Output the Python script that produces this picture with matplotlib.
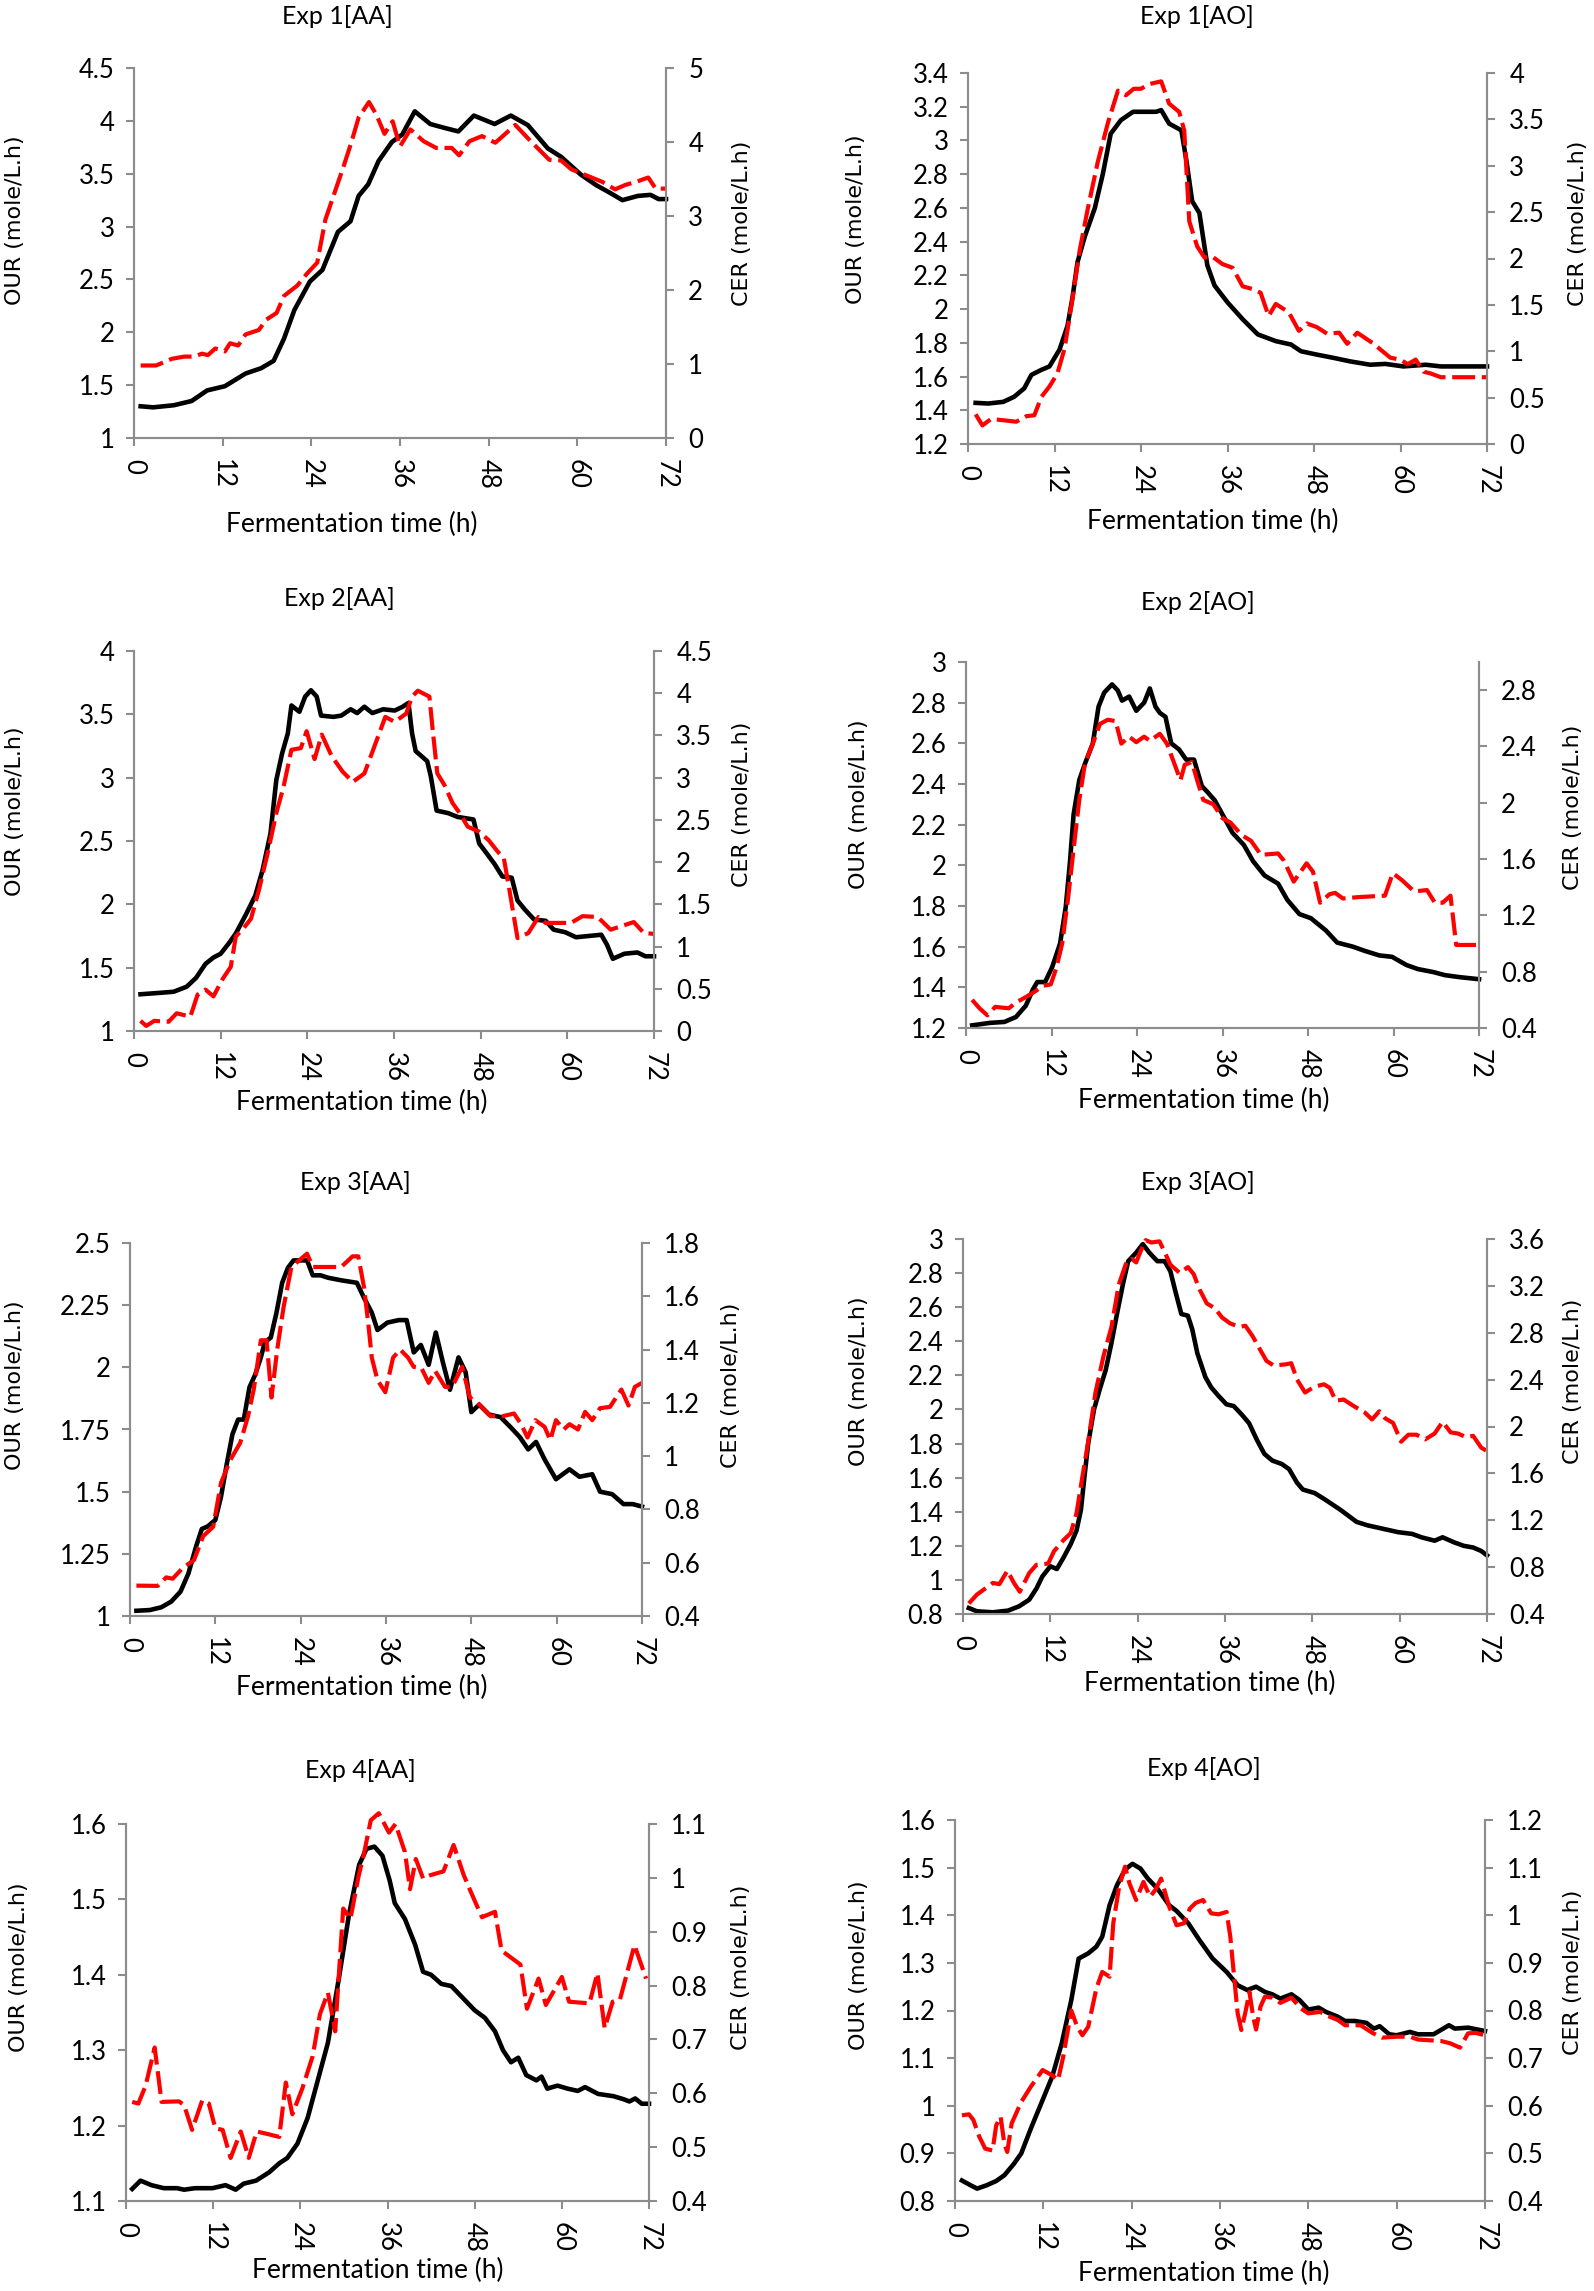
import numpy as np
import matplotlib
matplotlib.use("Agg")
import matplotlib.pyplot as plt
from matplotlib.ticker import FuncFormatter

# figure size in pixels (dpi 100)
W, H = 1594, 2291

# ---- data: (time h, value) ----
# Exp 1[AA]
our_1aa = [(0.9, 1.30), (2.6, 1.29), (5.4, 1.31), (7.8, 1.35), (9.9, 1.45), (12.3, 1.49), (15.1, 1.61),
           (17.2, 1.66), (18.9, 1.73), (20.3, 1.94), (21.7, 2.21), (23.8, 2.48), (25.5, 2.59), (27.6, 2.95),
           (29.3, 3.05), (30.4, 3.29), (31.7, 3.40), (33.1, 3.62), (34.9, 3.80), (36.3, 3.87), (38.0, 4.09),
           (40.1, 3.97), (42.2, 3.93), (43.9, 3.90), (46.0, 4.05), (48.8, 3.97), (51.0, 4.05), (53.3, 3.96),
           (56.0, 3.74), (57.8, 3.66), (60.5, 3.49), (62.6, 3.39), (64.4, 3.32), (66.1, 3.25), (68.2, 3.29),
           (69.9, 3.30), (71.0, 3.26), (72.0, 3.26)]
cer_1aa = [(0.9, 0.98), (3.0, 0.98), (5.1, 1.07), (6.8, 1.10), (8.2, 1.10), (9.2, 1.14), (10.0, 1.12),
           (11.0, 1.21), (12.3, 1.17), (13.0, 1.28), (14.1, 1.25), (15.1, 1.40), (16.9, 1.46), (17.9, 1.60),
           (19.3, 1.69), (20.3, 1.92), (22.1, 2.06), (23.4, 2.22), (24.8, 2.37), (25.9, 2.95), (27.3, 3.36),
           (28.3, 3.65), (29.4, 3.99), (30.4, 4.33), (31.8, 4.54), (32.8, 4.37), (33.9, 4.11), (35.0, 4.28),
           (36.0, 3.94), (37.4, 4.17), (39.2, 4.01), (40.9, 3.92), (43.0, 3.92), (44.0, 3.82), (45.4, 4.01),
           (47.1, 4.08), (48.9, 3.99), (51.6, 4.23), (53.7, 4.01), (56.2, 3.76), (57.8, 3.75), (59.2, 3.63),
           (61.7, 3.53), (63.4, 3.46), (65.1, 3.36), (66.5, 3.42), (67.9, 3.46), (69.6, 3.52), (70.6, 3.37),
           (72.0, 3.37)]

# Exp 1[AO]
our_1ao = [(1.06, 1.444), (2.8, 1.44), (4.9, 1.45), (6.4, 1.48), (7.8, 1.53), (8.8, 1.61), (10.2, 1.64),
           (11.3, 1.66), (12.7, 1.76), (13.8, 1.90), (14.5, 2.07), (15.2, 2.28), (16.2, 2.43), (17.6, 2.60),
           (18.7, 2.80), (19.8, 3.04), (21.2, 3.12), (22.9, 3.17), (24.7, 3.17), (26.1, 3.17), (26.8, 3.18),
           (27.9, 3.10), (29.6, 3.06), (30.3, 2.88), (31.1, 2.64), (32.1, 2.57), (33.2, 2.26), (34.2, 2.14),
           (36.0, 2.04), (38.1, 1.94), (40.2, 1.85), (42.7, 1.81), (44.8, 1.79), (46.2, 1.75), (48.4, 1.73),
           (50.8, 1.71), (53.0, 1.69), (55.8, 1.67), (57.9, 1.675), (60.4, 1.66), (63.5, 1.67), (65.6, 1.66),
           (72.0, 1.66)]
cer_1ao = [(1.06, 0.32), (2.0, 0.20), (3.2, 0.27), (5.6, 0.25), (6.7, 0.24), (8.1, 0.30), (9.2, 0.31),
           (10.2, 0.51), (11.3, 0.62), (12.4, 0.76), (13.4, 1.03), (14.5, 1.57), (15.5, 2.09), (16.6, 2.53),
           (18.0, 3.04), (19.4, 3.46), (20.8, 3.81), (21.9, 3.76), (23.0, 3.83), (24.0, 3.83), (25.1, 3.88),
           (26.8, 3.91), (27.9, 3.67), (29.3, 3.58), (30.0, 3.38), (30.7, 2.40), (31.8, 2.13), (32.8, 2.01),
           (33.9, 2.02), (35.3, 1.94), (36.7, 1.90), (38.1, 1.70), (39.5, 1.67), (40.6, 1.63), (41.7, 1.38),
           (42.7, 1.51), (44.5, 1.42), (45.9, 1.22), (47.0, 1.30), (48.4, 1.26), (49.8, 1.19), (51.5, 1.20),
           (52.6, 1.08), (54.0, 1.20), (56.1, 1.09), (58.6, 0.93), (60.0, 0.91), (61.0, 0.86), (62.1, 0.91),
           (63.2, 0.78), (64.2, 0.76), (65.6, 0.72), (72.0, 0.72)]

# Exp 2[AA]
our_2aa = [(0.9, 1.29), (3.3, 1.30), (5.5, 1.31), (7.3, 1.35), (8.6, 1.42), (9.9, 1.53), (11.0, 1.58),
           (12.0, 1.61), (13.1, 1.69), (14.1, 1.77), (15.5, 1.92), (16.8, 2.07), (17.8, 2.27), (18.9, 2.56),
           (19.7, 2.98), (20.5, 3.19), (21.3, 3.35), (21.8, 3.57), (22.9, 3.52), (23.7, 3.64), (24.5, 3.69),
           (25.3, 3.64), (25.9, 3.49), (27.6, 3.48), (28.7, 3.49), (30.0, 3.54), (30.9, 3.51), (31.9, 3.56),
           (33.0, 3.51), (34.5, 3.54), (36.1, 3.53), (37.2, 3.56), (38.0, 3.59), (38.5, 3.35), (39.0, 3.21),
           (40.6, 3.13), (41.1, 3.01), (41.9, 2.74), (43.5, 2.72), (44.8, 2.69), (47.0, 2.67), (47.8, 2.48),
           (48.6, 2.42), (49.9, 2.32), (51.0, 2.22), (52.3, 2.21), (53.1, 2.03), (54.1, 1.96), (55.4, 1.88),
           (57.0, 1.87), (58.1, 1.80), (59.7, 1.78), (61.2, 1.74), (64.7, 1.76), (65.5, 1.68), (66.3, 1.57),
           (67.9, 1.61), (69.7, 1.62), (70.8, 1.59), (72.0, 1.59)]
cer_2aa = [(0.9, 0.12), (1.7, 0.06), (2.8, 0.12), (4.8, 0.11), (5.9, 0.21), (7.8, 0.17), (8.8, 0.43),
           (9.9, 0.49), (11.0, 0.41), (12.3, 0.62), (13.4, 0.76), (14.1, 1.12), (15.2, 1.22), (16.2, 1.33),
           (17.3, 1.67), (18.6, 2.14), (19.7, 2.58), (20.7, 2.89), (21.8, 3.33), (23.1, 3.35), (23.9, 3.55),
           (25.0, 3.22), (26.0, 3.51), (27.4, 3.25), (28.9, 3.07), (30.3, 2.95), (31.9, 3.05), (33.2, 3.35),
           (34.8, 3.72), (36.1, 3.66), (37.7, 3.76), (38.5, 3.96), (39.3, 4.03), (40.9, 3.96), (41.4, 3.53),
           (42.0, 3.05), (43.0, 2.91), (44.1, 2.70), (45.1, 2.58), (46.2, 2.42), (47.8, 2.36), (49.1, 2.26),
           (50.4, 2.12), (51.2, 2.05), (51.9, 1.71), (53.1, 1.10), (54.6, 1.16), (56.0, 1.35), (57.0, 1.28),
           (60.5, 1.28), (62.1, 1.36), (64.2, 1.35), (66.0, 1.20), (67.4, 1.24), (69.2, 1.29), (70.6, 1.16),
           (72.0, 1.15)]

# Exp 2[AO]
our_2ao = [(0.86, 1.213), (3.3, 1.225), (5.4, 1.23), (7.0, 1.254), (8.4, 1.31), (9.4, 1.39), (10.0, 1.426),
           (11.1, 1.426), (12.1, 1.50), (13.2, 1.615), (14.0, 1.795), (14.6, 2.02), (15.1, 2.25), (15.9, 2.42),
           (16.7, 2.50), (17.8, 2.60), (18.6, 2.78), (19.4, 2.85), (20.5, 2.89), (21.3, 2.86), (21.9, 2.81),
           (22.9, 2.83), (23.9, 2.76), (25.0, 2.80), (25.8, 2.87), (26.6, 2.78), (27.2, 2.75), (28.0, 2.73),
           (28.8, 2.60), (29.9, 2.57), (30.9, 2.52), (32.0, 2.52), (33.1, 2.39), (33.9, 2.36), (34.9, 2.32),
           (36.0, 2.25), (37.4, 2.16), (39.0, 2.10), (40.3, 2.02), (41.9, 1.95), (43.8, 1.91), (45.1, 1.83),
           (46.8, 1.76), (48.4, 1.74), (50.5, 1.68), (52.1, 1.62), (54.3, 1.60), (55.9, 1.58), (58.0, 1.557),
           (59.8, 1.55), (61.8, 1.51), (63.4, 1.49), (65.6, 1.475), (67.2, 1.46), (69.3, 1.45), (72.0, 1.44)]
cer_2ao = [(0.86, 0.60), (1.9, 0.54), (3.0, 0.49), (4.1, 0.55), (6.0, 0.54), (7.0, 0.58), (8.4, 0.62),
           (9.7, 0.66), (10.8, 0.70), (11.9, 0.71), (12.7, 0.83), (13.5, 1.00), (14.3, 1.31), (15.1, 1.67),
           (15.9, 2.02), (16.7, 2.28), (17.8, 2.42), (18.8, 2.56), (19.9, 2.59), (21.0, 2.58), (21.8, 2.42),
           (22.9, 2.47), (23.9, 2.43), (25.0, 2.47), (25.8, 2.44), (27.2, 2.49), (28.2, 2.42), (29.3, 2.27),
           (30.1, 2.16), (30.7, 2.27), (31.7, 2.29), (32.5, 2.15), (33.3, 2.02), (34.7, 1.99), (36.0, 1.89),
           (37.1, 1.86), (38.7, 1.77), (40.0, 1.73), (41.4, 1.63), (43.8, 1.64), (44.6, 1.59), (46.0, 1.44),
           (47.8, 1.57), (48.7, 1.51), (49.7, 1.29), (51.0, 1.35), (51.8, 1.36), (52.9, 1.32), (55.1, 1.33),
           (58.8, 1.34), (59.9, 1.50), (61.2, 1.45), (62.9, 1.37), (64.7, 1.38), (65.8, 1.29), (66.9, 1.29),
           (68.0, 1.34), (68.8, 0.99), (69.8, 0.99), (72.0, 0.99)]

# Exp 3[AA]
our_3aa = [(0.9, 1.021), (2.8, 1.024), (4.4, 1.035), (5.8, 1.058), (7.1, 1.098), (8.2, 1.17), (9.3, 1.28),
           (10.1, 1.35), (10.9, 1.36), (12.0, 1.386), (12.8, 1.48), (13.6, 1.61), (14.4, 1.73), (15.2, 1.79),
           (16.0, 1.79), (16.8, 1.92), (17.6, 1.97), (18.4, 2.04), (18.95, 2.10), (19.8, 2.12), (20.6, 2.22),
           (21.4, 2.34), (22.2, 2.40), (23.0, 2.43), (24.9, 2.43), (25.7, 2.37), (26.8, 2.37), (27.9, 2.36),
           (29.7, 2.35), (31.9, 2.34), (32.9, 2.28), (34.0, 2.22), (34.8, 2.15), (36.2, 2.18), (37.8, 2.19),
           (38.9, 2.19), (39.9, 2.06), (40.9, 2.09), (42.0, 2.01), (43.0, 2.14), (44.0, 2.02), (45.0, 1.91),
           (46.2, 2.04), (47.2, 1.98), (48.0, 1.82), (49.1, 1.85), (50.5, 1.81), (52.1, 1.80), (53.5, 1.76),
           (54.8, 1.72), (56.0, 1.67), (57.1, 1.70), (58.3, 1.63), (59.9, 1.55), (61.8, 1.59), (63.2, 1.56),
           (65.0, 1.57), (66.1, 1.50), (67.8, 1.49), (69.4, 1.45), (70.7, 1.45), (72.0, 1.44)]
cer_3aa = [(0.9, 0.514), (3.9, 0.513), (5.1, 0.545), (6.0, 0.54), (7.4, 0.58), (9.0, 0.61), (10.3, 0.70),
           (11.7, 0.735), (12.8, 0.90), (14.1, 0.985), (15.5, 1.05), (16.6, 1.15), (17.4, 1.25), (18.4, 1.435),
           (19.2, 1.435), (19.9, 1.22), (20.7, 1.40), (21.6, 1.56), (22.7, 1.71), (23.8, 1.735), (24.9, 1.76),
           (25.7, 1.71), (27.6, 1.71), (29.7, 1.71), (31.3, 1.75), (32.1, 1.75), (32.9, 1.635), (33.5, 1.50),
           (34.0, 1.37), (34.8, 1.285), (35.9, 1.24), (37.0, 1.37), (38.0, 1.40), (39.1, 1.37), (39.9, 1.335),
           (41.0, 1.33), (42.0, 1.275), (42.9, 1.32), (44.3, 1.26), (45.3, 1.26), (46.7, 1.335), (47.8, 1.22),
           (48.9, 1.20), (50.7, 1.15), (52.4, 1.15), (54.0, 1.16), (55.0, 1.12), (55.9, 1.07), (57.0, 1.135),
           (58.3, 1.11), (59.1, 1.06), (59.9, 1.135), (61.0, 1.10), (61.8, 1.12), (63.0, 1.10), (64.0, 1.166),
           (65.0, 1.135), (66.1, 1.18), (67.5, 1.185), (69.1, 1.25), (70.1, 1.19), (71.0, 1.26), (72.0, 1.275)]

# Exp 3[AO]
our_3ao = [(0.8, 0.835), (1.9, 0.816), (4.1, 0.81), (6.2, 0.82), (7.7, 0.845), (9.1, 0.884), (10.1, 0.95),
           (10.9, 1.02), (12.0, 1.08), (12.9, 1.064), (13.8, 1.13), (14.8, 1.21), (15.6, 1.29), (16.2, 1.41),
           (16.7, 1.61), (17.2, 1.80), (18.0, 2.00), (18.8, 2.12), (19.6, 2.23), (20.4, 2.39), (21.2, 2.57),
           (22.0, 2.74), (22.7, 2.87), (23.8, 2.92), (24.7, 2.97), (25.6, 2.92), (26.7, 2.87), (27.7, 2.87),
           (28.5, 2.81), (29.2, 2.69), (30.0, 2.56), (30.9, 2.55), (31.5, 2.47), (32.2, 2.33), (33.3, 2.19),
           (34.1, 2.13), (35.1, 2.08), (36.2, 2.03), (37.2, 2.02), (38.3, 1.97), (39.3, 1.92), (40.4, 1.82),
           (41.4, 1.74), (42.5, 1.70), (43.8, 1.68), (44.8, 1.65), (45.9, 1.57), (46.7, 1.53), (48.3, 1.51),
           (49.8, 1.47), (51.9, 1.41), (54.1, 1.34), (55.6, 1.32), (57.7, 1.30), (59.8, 1.28), (61.7, 1.27),
           (63.0, 1.25), (64.8, 1.23), (65.9, 1.25), (67.5, 1.22), (68.8, 1.20), (70.1, 1.19), (71.2, 1.17),
           (72.0, 1.144)]
cer_3ao = [(0.8, 0.49), (1.9, 0.565), (4.1, 0.665), (5.0, 0.655), (6.1, 0.77), (7.0, 0.665), (7.8, 0.59),
           (9.1, 0.75), (10.1, 0.82), (11.7, 0.83), (12.5, 0.935), (13.8, 1.03), (14.8, 1.09), (15.6, 1.26),
           (16.4, 1.57), (17.2, 1.87), (18.2, 2.29), (19.3, 2.60), (20.4, 2.85), (21.4, 3.21), (22.5, 3.41),
           (23.2, 3.43), (23.8, 3.40), (24.3, 3.48), (25.1, 3.59), (25.9, 3.57), (27.0, 3.58), (27.7, 3.49),
           (28.5, 3.38), (29.8, 3.31), (30.9, 3.36), (31.7, 3.30), (32.5, 3.17), (33.5, 3.05), (34.6, 3.01),
           (35.6, 2.93), (36.7, 2.88), (38.0, 2.85), (38.8, 2.86), (39.8, 2.77), (40.6, 2.68), (41.7, 2.56),
           (42.7, 2.52), (44.3, 2.53), (45.1, 2.54), (45.9, 2.40), (47.0, 2.29), (48.3, 2.34), (49.6, 2.36),
           (50.4, 2.33), (51.2, 2.22), (52.3, 2.23), (53.8, 2.17), (55.2, 2.12), (56.2, 2.06), (57.2, 2.13),
           (58.0, 2.07), (59.1, 2.03), (60.2, 1.87), (61.2, 1.93), (62.3, 1.93), (63.5, 1.89), (64.8, 1.94),
           (65.9, 2.04), (67.0, 1.95), (68.0, 1.94), (69.1, 1.91), (70.1, 1.92), (71.2, 1.82), (72.0, 1.79)]

# Exp 4[AA]
our_4aa = [(0.85, 1.116), (2.0, 1.127), (3.5, 1.121), (5.2, 1.117), (7.0, 1.117), (8.0, 1.115), (9.5, 1.117),
           (11.9, 1.117), (13.7, 1.121), (15.1, 1.115), (16.2, 1.123), (17.9, 1.127), (19.7, 1.138), (21.1, 1.15),
           (22.2, 1.157), (23.6, 1.176), (25.0, 1.21), (26.4, 1.26), (27.8, 1.31), (29.3, 1.395), (30.7, 1.48),
           (32.1, 1.546), (33.1, 1.567), (34.2, 1.57), (35.3, 1.558), (36.3, 1.525), (37.0, 1.495), (38.4, 1.474),
           (39.8, 1.44), (40.9, 1.404), (42.0, 1.40), (43.4, 1.388), (44.8, 1.385), (46.2, 1.371), (48.0, 1.353),
           (49.4, 1.343), (50.8, 1.325), (51.9, 1.30), (53.0, 1.284), (54.0, 1.29), (55.1, 1.267), (56.5, 1.26),
           (57.2, 1.265), (58.0, 1.249), (59.4, 1.253), (60.8, 1.249), (62.2, 1.246), (63.2, 1.251), (65.0, 1.242),
           (67.1, 1.239), (68.5, 1.235), (69.3, 1.232), (70.1, 1.236), (71.0, 1.229), (72.0, 1.229)]
cer_4aa = [(0.85, 0.584), (1.7, 0.581), (2.7, 0.614), (3.95, 0.685), (4.9, 0.584), (7.3, 0.585), (8.0, 0.578),
           (9.1, 0.532), (10.5, 0.587), (11.4, 0.581), (12.3, 0.535), (13.3, 0.532), (14.4, 0.48), (15.8, 0.529),
           (16.9, 0.48), (18.0, 0.529), (19.3, 0.525), (21.1, 0.519), (22.0, 0.62), (22.9, 0.561), (24.3, 0.61),
           (25.7, 0.669), (26.7, 0.747), (27.8, 0.787), (28.8, 0.715), (29.9, 0.943), (30.9, 0.924), (32.0, 1.002),
           (32.7, 1.041), (33.7, 1.107), (34.8, 1.12), (36.2, 1.084), (37.1, 1.10), (38.4, 1.048), (39.1, 0.979),
           (39.9, 1.035), (40.9, 0.999), (41.9, 1.005), (43.7, 1.012), (45.1, 1.061), (46.5, 1.005), (47.6, 0.97),
           (49.0, 0.927), (50.8, 0.937), (51.7, 0.865), (53.3, 0.849), (54.3, 0.839), (55.2, 0.757), (56.8, 0.813),
           (57.8, 0.764), (60.0, 0.816), (61.0, 0.77), (63.8, 0.767), (64.9, 0.823), (65.9, 0.721), (67.0, 0.77),
           (68.0, 0.774), (70.0, 0.875), (71.6, 0.813)]

# Exp 4[AO]
our_4ao = [(0.94, 0.843), (2.0, 0.834), (3.0, 0.826), (4.3, 0.833), (5.6, 0.842), (6.7, 0.854), (8.0, 0.878),
           (9.0, 0.90), (10.3, 0.952), (11.9, 1.012), (13.2, 1.061), (14.5, 1.131), (15.8, 1.222), (16.8, 1.309),
           (18.1, 1.32), (19.2, 1.334), (20.0, 1.355), (21.0, 1.421), (22.0, 1.463), (23.1, 1.496), (24.1, 1.508),
           (25.2, 1.498), (26.2, 1.477), (27.5, 1.456), (29.1, 1.421), (30.1, 1.409), (31.7, 1.383), (33.2, 1.348),
           (35.0, 1.309), (36.9, 1.281), (38.4, 1.253), (39.7, 1.243), (40.9, 1.25), (42.1, 1.239), (43.1, 1.234),
           (44.2, 1.225), (45.7, 1.234), (46.8, 1.222), (48.0, 1.202), (49.4, 1.206), (50.4, 1.197), (52.0, 1.187),
           (53.0, 1.178), (54.3, 1.178), (55.9, 1.174), (56.9, 1.162), (57.7, 1.167), (59.0, 1.15), (60.0, 1.148),
           (61.8, 1.155), (62.9, 1.15), (65.0, 1.15), (66.0, 1.159), (67.1, 1.169), (67.9, 1.162), (69.7, 1.164),
           (71.0, 1.16), (72.0, 1.157)]
cer_4ao = [(0.94, 0.58), (1.9, 0.582), (2.5, 0.57), (3.3, 0.535), (4.1, 0.51), (5.1, 0.506), (5.6, 0.559),
           (6.2, 0.577), (6.7, 0.52), (7.1, 0.503), (7.7, 0.563), (9.0, 0.608), (10.3, 0.64), (11.9, 0.675),
           (13.2, 0.664), (14.0, 0.654), (14.7, 0.703), (15.8, 0.80), (16.6, 0.766), (17.3, 0.748), (18.1, 0.766),
           (19.2, 0.846), (20.0, 0.881), (21.0, 0.871), (21.5, 0.983), (22.3, 1.06), (23.1, 1.102), (23.7, 1.067),
           (24.6, 1.032), (25.6, 1.07), (26.5, 1.039), (27.2, 1.053), (28.0, 1.077), (29.1, 1.018), (30.1, 0.979),
           (31.1, 0.983), (31.9, 1.014), (32.7, 1.026), (33.7, 1.032), (34.8, 1.004), (35.8, 1.002), (36.9, 1.007),
           (37.4, 0.955), (37.9, 0.874), (38.4, 0.794), (38.9, 0.759), (39.5, 0.80), (40.0, 0.839), (40.5, 0.787),
           (40.9, 0.76), (41.5, 0.808), (42.1, 0.829), (43.1, 0.827), (44.2, 0.816), (45.7, 0.827), (47.0, 0.804),
           (48.0, 0.794), (49.6, 0.797), (50.9, 0.787), (52.0, 0.78), (53.0, 0.769), (55.1, 0.769), (56.7, 0.753),
           (58.0, 0.743), (60.0, 0.745), (61.8, 0.745), (62.9, 0.739), (66.0, 0.736), (67.3, 0.731), (68.6, 0.722),
           (69.7, 0.752), (70.7, 0.753), (72.0, 0.748)]

titles = ["Exp 1[AA]", "Exp 1[AO]", "Exp 2[AA]", "Exp 2[AO]",
          "Exp 3[AA]", "Exp 3[AO]", "Exp 4[AA]", "Exp 4[AO]"]
our_series = [our_1aa, our_1ao, our_2aa, our_2ao, our_3aa, our_3ao, our_4aa, our_4ao]
cer_series = [cer_1aa, cer_1ao, cer_2aa, cer_2ao, cer_3aa, cer_3ao, cer_4aa, cer_4ao]

# axis ranges: (min, max, tick step)
our_axis = [(1, 4.5, 0.5), (1.2, 3.4, 0.2), (1, 4, 0.5), (1.2, 3.0, 0.2),
            (1, 2.5, 0.25), (0.8, 3.0, 0.2), (1.1, 1.6, 0.1), (0.8, 1.6, 0.1)]
cer_axis = [(0, 5, 1), (0, 4, 0.5), (0, 4.5, 0.5), (0.4, 3.0, 0.4),
            (0.4, 1.8, 0.2), (0.4, 3.6, 0.4), (0.4, 1.1, 0.1), (0.4, 1.2, 0.1)]
x_ticks = [0, 12, 24, 36, 48, 60, 72]

# ---- layout (pixel positions in the 1594x2291 figure) ----
# axes box: x0, x1, y0(top), y1(bottom)
boxes = [(134, 666, 68, 438), (968, 1487, 73, 444),
         (134, 654, 651, 1031), (966, 1479, 662, 1028),
         (130, 642, 1243, 1616), (963, 1487, 1239, 1614),
         (126, 649, 1824, 2201), (955, 1485, 1820, 2201)]
title_xy = [(337, 16), (1197, 16), (339, 599), (1198, 603),
            (355, 1183), (1198, 1183), (360, 1770), (1204, 1768)]
xlabel_xy = [(352, 524), (1213, 521), (362, 1102), (1204, 1100),
             (362, 1687), (1210, 1683), (378, 2270), (1204, 2273)]
our_lab_xy = [(15, 220), (856, 219), (15, 811), (859, 804),
              (15, 1385), (859, 1381), (19, 1967), (859, 1965)]
cer_lab_xy = [(742, 223), (1578, 223), (742, 804), (1573, 807),
              (731, 1385), (1573, 1381), (741, 1967), (1573, 1972)]

tick_font = "Lato"
label_font = "DejaVu Sans"
grey = "#8c8c8c"

fig = plt.figure(figsize=(W / 100, H / 100), dpi=100)
fmt = FuncFormatter(lambda v, p: f"{v:g}")


def fx(x):
    return x / W


def fy(y):
    return 1 - y / H


for i in range(8):
    x0, x1, y0, y1 = boxes[i]
    ax = fig.add_axes([fx(x0), fy(y1), (x1 - x0) / W, (y1 - y0) / H])
    ax2 = ax.twinx()

    t, v = np.array(our_series[i]).T
    ax.plot(t, v, color="black", lw=3.3, solid_joinstyle="round", clip_on=False, zorder=3)
    t, v = np.array(cer_series[i]).T
    ax2.plot(t, v, color="#ff0000", lw=3.0, dashes=(5.5, 1.6), clip_on=False)

    lo, hi, st = our_axis[i]
    ax.set_ylim(lo, hi)
    ax.set_yticks(np.round(np.arange(lo, hi + st / 2, st), 3))
    lo, hi, st = cer_axis[i]
    ax2.set_ylim(lo, hi)
    ax2.set_yticks(np.round(np.arange(lo, hi + 1e-9, st), 3))
    ax.set_xlim(0, 72)
    ax.set_xticks(x_ticks)

    for a in (ax, ax2):
        a.yaxis.set_major_formatter(fmt)
        a.spines["top"].set_visible(False)
        for s in a.spines.values():
            s.set_color(grey)
            s.set_linewidth(1.5)
        a.tick_params(colors="black", length=6, width=1.5, labelsize=18.5)
        a.tick_params(axis="both", color=grey)
        for lab in a.get_xticklabels() + a.get_yticklabels():
            lab.set_fontfamily(tick_font)
    ax.tick_params(axis="y", pad=8)
    ax2.tick_params(axis="y", pad=10)
    ax.tick_params(axis="x", pad=9, labelrotation=-90)
    ax.patch.set_visible(False)

    fig.text(fx(title_xy[i][0]), fy(title_xy[i][1]), titles[i], ha="center", va="center",
             fontsize=18, family=tick_font)
    fig.text(fx(xlabel_xy[i][0]), fy(xlabel_xy[i][1]), "Fermentation time (h)", ha="center",
             va="center", fontsize=19, family=tick_font)
    fig.text(fx(our_lab_xy[i][0]), fy(our_lab_xy[i][1]), "OUR (mole/L.h)", ha="center", va="center",
             rotation=90, fontsize=16, family=label_font)
    fig.text(fx(cer_lab_xy[i][0]), fy(cer_lab_xy[i][1]), "CER (mole/L.h)", ha="center", va="center",
             rotation=90, fontsize=16, family=label_font)

fig.savefig("out.png", dpi=100)
